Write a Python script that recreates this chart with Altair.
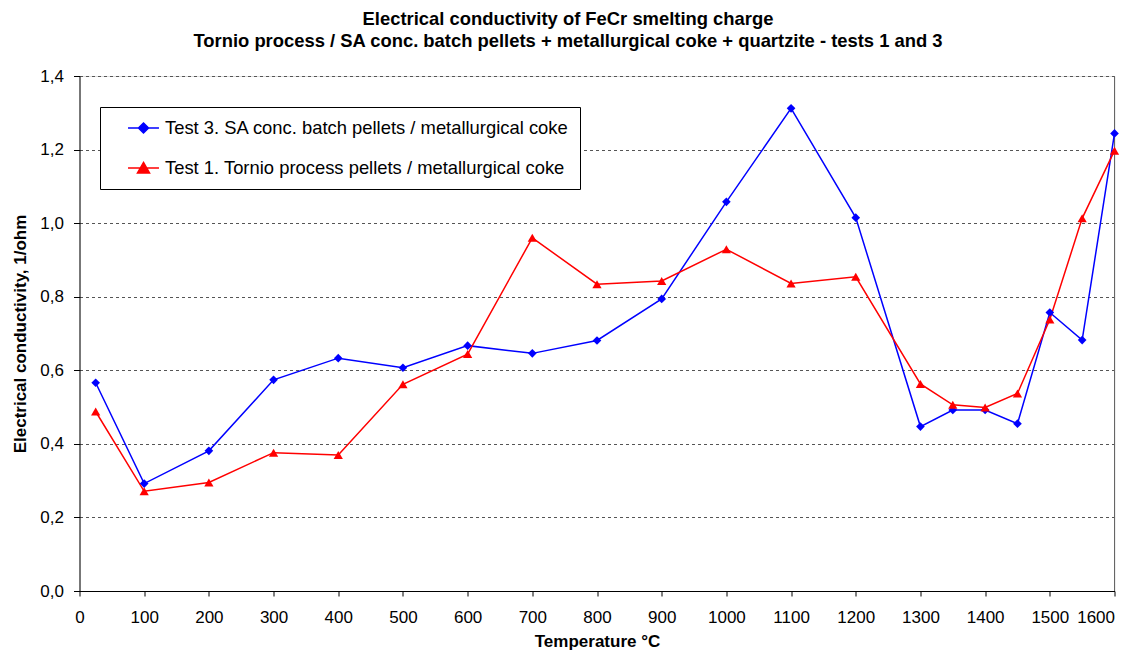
import altair as alt
import pandas as pd

temps = [25, 100, 200, 300, 400, 500, 600, 700, 800, 900, 1000, 1100, 1200,
         1300, 1350, 1400, 1450, 1500, 1550, 1600]
test3 = [0.566, 0.292, 0.381, 0.574, 0.633, 0.607, 0.667, 0.646, 0.681, 0.794,
         1.058, 1.312, 1.015, 0.447, 0.492, 0.492, 0.455, 0.757, 0.682, 1.244]
test1 = [0.488, 0.271, 0.295, 0.376, 0.370, 0.562, 0.644, 0.960, 0.834, 0.843,
         0.929, 0.836, 0.854, 0.563, 0.506, 0.499, 0.537, 0.738, 1.013, 1.197]

S3 = "Test 3. SA conc. batch pellets / metallurgical coke"
S1 = "Test 1. Tornio process pellets / metallurgical coke"
series_names = [S3, S1]
series_colors = ["#0000FF", "#FF0000"]
x_ticks = list(range(0, 1700, 100))
y_ticks = [0.0, 0.2, 0.4, 0.6, 0.8, 1.0, 1.2, 1.4]

df = pd.DataFrame({
    "temp": temps + temps,
    "value": test3 + test1,
    "series": [S3] * len(temps) + [S1] * len(temps),
})

FONT = "Liberation Sans"

x_enc = alt.X(
    "temp:Q",
    scale=alt.Scale(domain=[0, 1600], nice=False, zero=False),
    axis=alt.Axis(
        values=x_ticks, title="Temperature °C", grid=False, format="d",
        labelFontSize=17, labelFont=FONT, labelColor="black", labelPadding=13,
        labelAlign={"condition": {"test": "datum.value == 1600", "value": "right"},
                    "value": "center"},
        tickSize=5, tickColor="black", domainColor="black",
        titleFontSize=17, titleFont=FONT, titleFontWeight="bold",
        titleColor="black", titlePadding=8, labelFlush=False,
    ),
)
y_enc = alt.Y(
    "value:Q",
    scale=alt.Scale(domain=[0, 1.4], nice=False),
    axis=alt.Axis(
        values=y_ticks, title="Electrical conductivity, 1/ohm",
        labelExpr="replace(format(datum.value, '.1f'), '.', ',')",
        grid=True, gridDash=[3, 3], gridColor="#555555", gridWidth=1,
        labelFontSize=17, labelFont=FONT, labelColor="black", labelPadding=10,
        tickSize=6, tickColor="black", domainColor="black",
        titleFontSize=17, titleFont=FONT, titleFontWeight="bold",
        titleColor="black", titlePadding=10, labelFlush=False,
    ),
)

base = alt.Chart(df)

line3 = base.transform_filter(alt.datum.series == S3).mark_line(
    color=series_colors[0], strokeWidth=1.5).encode(x=x_enc, y=y_enc)
line1 = base.transform_filter(alt.datum.series == S1).mark_line(
    color=series_colors[1], strokeWidth=1.5).encode(x=x_enc, y=y_enc)
pts3 = base.transform_filter(alt.datum.series == S3).mark_point(
    shape="diamond", filled=True, size=75, color=series_colors[0], opacity=1
).encode(x=x_enc, y=y_enc)
pts1 = base.transform_filter(alt.datum.series == S1).mark_point(
    shape="triangle-up", filled=True, size=85, color=series_colors[1], opacity=1
).encode(x=x_enc, y=y_enc)

right_edge = alt.Chart(pd.DataFrame({"temp": [1600]})).mark_rule(
    color="#666666", strokeWidth=1).encode(x=alt.X("temp:Q"))

# legend symbols: line + marker, symbol box half-size = 9px
path_diamond = "M0.78,0H4.22M2.5,-0.56L3.06,0L2.5,0.56L1.94,0Z"
path_triangle = "M0.78,0H4.22M2.5,-0.62L3.17,0.55L1.83,0.55Z"

leg = alt.Legend(
    title=None, orient="none", legendX=20.5, legendY=31,
    labelFontSize=18.4, labelFont=FONT, labelColor="black", labelLimit=0,
    symbolSize=324, symbolStrokeWidth=1.5, symbolOpacity=1,
    labelOffset=34, rowPadding=20, padding=11,
    strokeColor="black", fillColor="white",
)
legend_layer = base.transform_filter("false").mark_point(
    filled=True, opacity=1).encode(
    x=x_enc, y=y_enc,
    fill=alt.Fill("series:N", scale=alt.Scale(domain=series_names, range=series_colors), legend=leg),
    stroke=alt.Stroke("series:N", scale=alt.Scale(domain=series_names, range=series_colors), legend=leg),
    shape=alt.Shape("series:N", scale=alt.Scale(domain=series_names, range=[path_diamond, path_triangle]), legend=leg),
)

chart = alt.layer(right_edge, line3, line1, pts3, pts1, legend_layer).properties(
    width=1035, height=515,
    title=alt.TitleParams(
        text=["Electrical conductivity of FeCr smelting charge",
              "Tornio process / SA conc. batch pellets + metallurgical coke + quartzite - tests 1 and 3"],
        fontSize=18.4, font=FONT, fontWeight="bold", color="black",
        anchor="middle", dx=-29, offset=17, lineHeight=22,
    ),
    autosize=alt.AutoSizeParams(type="none"),
    padding={"left": 71.5, "top": 68, "right": 18.5, "bottom": 59},
).configure_view(stroke=None).configure(background="white")

chart.save("out.html", embed_options={"renderer": "svg", "actions": False})
